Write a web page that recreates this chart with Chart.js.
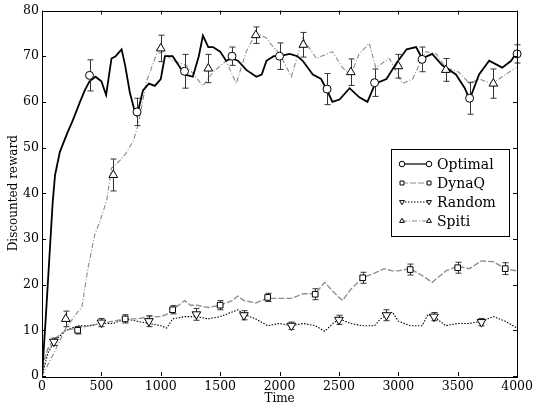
<!DOCTYPE html>
<html>
<head>
<meta charset="utf-8">
<script src="https://cdn.jsdelivr.net/npm/chart.js@4.4.0/dist/chart.umd.min.js"></script>
<style>
  html, body { margin: 0; padding: 0; background: #fff; }
  #wrap { width: 536px; height: 406px; }
</style>
</head>
<body>
<div id="wrap"><canvas id="rewardPlot" width="536" height="406"></canvas></div>
<script>
'use strict';

// curves (time, discounted reward)
const optimalTime = [0, 30, 60, 90, 110, 150, 210, 260, 320, 360, 400, 450, 500, 540, 585, 620, 670, 700, 740, 780, 800, 850, 900, 950, 1000, 1035, 1100, 1150, 1200, 1270, 1320, 1355, 1400, 1440, 1500, 1550, 1600, 1650, 1720, 1805, 1850, 1890, 1950, 2000, 2085, 2150, 2195, 2280, 2350, 2400, 2445, 2505, 2590, 2672, 2740, 2805, 2900, 2985, 3070, 3150, 3200, 3285, 3370, 3485, 3560, 3600, 3680, 3765, 3875, 3950, 4000];
const optimalReward = [0, 12, 25, 38, 44, 49, 53, 56, 60, 62.5, 64.5, 65.5, 64.5, 61.5, 69.5, 70, 71.5, 68, 62, 58, 57, 62.5, 64, 63.5, 65, 70, 70, 68, 66, 65.5, 70, 74.5, 72, 72, 71, 69, 69.5, 69, 67, 65.5, 66, 69, 70, 70, 70.5, 70, 69, 66, 65, 62.5, 60, 60.5, 63, 61, 60, 64, 65, 68.5, 71.5, 72, 69.5, 70.5, 68, 66, 63, 60.5, 66, 69, 67.5, 69, 71];

const dynaqTime = [0, 25, 50, 100, 150, 200, 300, 400, 500, 600, 700, 800, 900, 1000, 1050, 1100, 1150, 1200, 1250, 1300, 1400, 1500, 1600, 1650, 1700, 1800, 1900, 2000, 2100, 2200, 2300, 2380, 2450, 2530, 2600, 2700, 2800, 2880, 2950, 3000, 3100, 3200, 3285, 3400, 3500, 3600, 3700, 3800, 3900, 4000];
const dynaqReward = [0, 4, 6, 8, 9, 10, 10.5, 11, 11.5, 12, 12.5, 12.5, 13, 13, 13.5, 14.5, 15.5, 16.5, 15.5, 15.5, 15, 15.5, 16.5, 17.5, 16.5, 16, 17, 17, 17, 18, 18, 20.5, 18.5, 16.5, 19, 21.5, 22.5, 23.5, 23, 23, 23.5, 22, 20.5, 23, 24, 23.5, 25.2, 25, 23.5, 23];

const randomTime = [0, 50, 100, 200, 300, 400, 500, 600, 700, 800, 900, 1000, 1050, 1100, 1200, 1300, 1400, 1500, 1600, 1650, 1700, 1800, 1900, 2000, 2100, 2200, 2300, 2380, 2450, 2500, 2600, 2700, 2800, 2850, 2950, 3000, 3100, 3200, 3250, 3300, 3400, 3500, 3600, 3700, 3800, 3900, 4000];
const randomReward = [0, 5, 7.5, 10, 11, 11, 11.5, 11.5, 12.5, 12, 11.5, 11, 10.5, 12.5, 13, 13, 12.5, 13, 14, 14.5, 13.5, 12.5, 11, 11.5, 11, 11.5, 11, 9.8, 11.5, 12.5, 11.5, 11, 11, 12.5, 14, 12, 11, 11, 13.5, 13, 11, 11.5, 11.5, 12, 13, 12, 10.5];

const spitiTime = [0, 100, 200, 300, 335, 390, 445, 490, 545, 585, 650, 700, 770, 810, 880, 965, 1020, 1100, 1215, 1355, 1440, 1550, 1635, 1720, 1800, 1890, 1916, 2000, 2100, 2195, 2310, 2445, 2530, 2600, 2670, 2755, 2810, 2925, 3035, 3120, 3230, 3320, 3400, 3510, 3600, 3680, 3790, 3875, 3990];
const spitiReward = [0, 5, 10.5, 14, 15, 24, 31, 34, 38.5, 45.5, 47, 48.5, 51.5, 55, 64.5, 70.5, 71, 69, 68, 63.5, 66.5, 69, 64, 71, 75, 74, 73, 70.5, 65.5, 74, 69.5, 71, 67.5, 66, 70.5, 72.8, 67.5, 69.5, 64, 65, 71, 70.5, 67.5, 66.5, 64, 65, 64, 65.5, 67.5];

// markers with error bars
const optimalMarkT = [400, 800, 1200, 1600, 2000, 2400, 2800, 3200, 3600, 4000];
const optimalMarkV = [65.8, 57.8, 66.7, 70, 70, 62.8, 64.2, 69.3, 60.8, 70.5];
const optimalErr = [3.4, 3, 3.7, 2, 2.9, 3.4, 3, 2.7, 3.5, 2];

const dynaqMarkT = [300, 700, 1100, 1500, 1900, 2300, 2700, 3100, 3500, 3900];
const dynaqMarkV = [10, 12.5, 14.5, 15.5, 17.2, 17.9, 21.5, 23.3, 23.7, 23.5];
const dynaqErr = [0.8, 0.9, 0.9, 1, 0.9, 1.2, 1.2, 1.2, 1.2, 1.3];

const randomMarkT = [100, 500, 900, 1300, 1700, 2100, 2500, 2900, 3300, 3700];
const randomMarkV = [7.5, 11.7, 12, 13.5, 13.3, 11, 12.3, 13.3, 13, 11.8];
const randomErr = [0.8, 0.9, 1.2, 1.3, 1, 0.8, 1, 1.2, 0.9, 0.8];

const spitiMarkT = [200, 600, 1000, 1400, 1800, 2200, 2600, 3000, 3400, 3800];
const spitiMarkV = [12.5, 44, 71.7, 67.3, 74.6, 72.5, 66.5, 67.8, 67, 64];
const spitiErr = [1.7, 3.5, 2.9, 3.1, 1.8, 2.7, 2.9, 2.6, 2.5, 3.2];

const xTicks = [0, 500, 1000, 1500, 2000, 2500, 3000, 3500, 4000];
const yTicks = [0, 10, 20, 30, 40, 50, 60, 70, 80];

const serif = '"DejaVu Serif", "Liberation Serif", serif';

const pts = (t, v) => t.map((x, i) => ({x: x, y: v[i]}));

const series = [
    {label: 'Optimal', t: optimalTime, v: optimalReward, mt: optimalMarkT, mv: optimalMarkV, err: optimalErr,
     color: '#000', width: 1.8, dash: [], style: 'circle', rot: 0, r: 4},
    {label: 'DynaQ', t: dynaqTime, v: dynaqReward, mt: dynaqMarkT, mv: dynaqMarkV, err: dynaqErr,
     color: '#8f8f8f', width: 1.4, dash: [6, 2], style: 'rect', rot: 0, r: 4},
    {label: 'Random', t: randomTime, v: randomReward, mt: randomMarkT, mv: randomMarkV, err: randomErr,
     color: '#000', width: 1.1, dash: [1.5, 1.5], style: 'triangle', rot: 180, r: 5},
    {label: 'Spiti', t: spitiTime, v: spitiReward, mt: spitiMarkT, mv: spitiMarkV, err: spitiErr,
     color: '#8a8a8a', width: 1.1, dash: [5, 2, 1, 2], style: 'triangle', rot: 0, r: 5},
];

// marker datasets first (drawn last, on top), then the lines
const markerSets = series.map(s => ({
    label: s.label + ' markers',
    data: pts(s.mt, s.mv),
    showLine: false,
    pointStyle: s.style,
    pointRotation: s.rot,
    pointRadius: s.r,
    pointBackgroundColor: '#fff',
    pointBorderColor: '#000',
    pointBorderWidth: 1,
    clip: false,
}));
const lineSets = series.map(s => ({
    label: s.label,
    data: pts(s.t, s.v),
    borderColor: s.color,
    borderWidth: s.width,
    borderDash: s.dash,
    pointRadius: 0,
    tension: 0,
}));

function legendMarker(ctx, s, px, py) {
    ctx.save();
    ctx.fillStyle = '#fff';
    ctx.strokeStyle = '#000';
    ctx.lineWidth = 1;
    Chart.helpers.drawPoint(ctx, {pointStyle: s.style, rotation: s.rot, radius: 2.8, borderWidth: 1}, px, py);
    ctx.restore();
}

const framePlugin = {
    id: 'frame',
    afterDatasetDraw(chart, args) {
        // error bars: after the last line, before the markers
        if (args.index !== series.length) return;
        const {ctx, scales: {x, y}} = chart;
        ctx.save();
        ctx.strokeStyle = '#333';
        ctx.lineWidth = 1;
        series.forEach(s => {
            s.mt.forEach((t, i) => {
                const px = Math.round(x.getPixelForValue(t)) + 0.5;
                const y1 = y.getPixelForValue(s.mv[i] + s.err[i]);
                const y2 = y.getPixelForValue(s.mv[i] - s.err[i]);
                ctx.beginPath();
                ctx.moveTo(px, y1); ctx.lineTo(px, y2);
                ctx.moveTo(px - 3, y1); ctx.lineTo(px + 3, y1);
                ctx.moveTo(px - 3, y2); ctx.lineTo(px + 3, y2);
                ctx.stroke();
            });
        });
        ctx.restore();
    },
    afterDraw(chart) {
        const {ctx, chartArea: a, scales: {x, y}} = chart;
        ctx.save();
        ctx.strokeStyle = '#000';
        ctx.lineWidth = 1;
        ctx.strokeRect(Math.round(a.left) + 0.5, Math.round(a.top) + 0.5,
            Math.round(a.right - a.left), Math.round(a.bottom - a.top));
        // inward ticks on all sides
        ctx.beginPath();
        xTicks.forEach(t => {
            const px = Math.round(x.getPixelForValue(t)) + 0.5;
            ctx.moveTo(px, a.bottom); ctx.lineTo(px, a.bottom - 4);
            ctx.moveTo(px, a.top); ctx.lineTo(px, a.top + 4);
        });
        yTicks.forEach(v => {
            const py = Math.round(y.getPixelForValue(v)) + 0.5;
            ctx.moveTo(a.left, py); ctx.lineTo(a.left + 4, py);
            ctx.moveTo(a.right, py); ctx.lineTo(a.right - 4, py);
        });
        ctx.stroke();

        // legend box
        const bx = 391.5, by = 149.5, bw = 118, bh = 87;
        ctx.fillStyle = '#fff';
        ctx.fillRect(bx, by, bw, bh);
        ctx.strokeRect(bx, by, bw, bh);
        ctx.font = '14px ' + serif;
        ctx.textBaseline = 'middle';
        series.forEach((s, i) => {
            const ry = 164 + i * 19;
            const x1 = 402, x2 = 429;
            ctx.strokeStyle = s.color;
            ctx.lineWidth = 1.2;
            ctx.setLineDash(s.dash);
            ctx.beginPath();
            ctx.moveTo(x1, ry); ctx.lineTo(x2, ry);
            ctx.stroke();
            ctx.setLineDash([]);
            legendMarker(ctx, s, x1, ry);
            legendMarker(ctx, s, x2, ry);
            ctx.fillStyle = '#000';
            ctx.fillText(s.label, 437, ry + 1);
        });
        ctx.restore();
    }
};

const ctx = document.getElementById('rewardPlot').getContext('2d');

new Chart(ctx, {
    type: 'line',
    data: {datasets: markerSets.concat(lineSets)},
    options: {
        responsive: false,
        animation: false,
        events: [],
        layout: {padding: {top: 9, right: 18, bottom: 0, left: 0}},
        scales: {
            x: {
                type: 'linear',
                min: 0,
                max: 4000,
                afterBuildTicks: s => { s.ticks = xTicks.map(v => ({value: v})); },
                afterFit: s => { s.height = 30; },
                grid: {display: false, drawTicks: false},
                border: {display: false},
                ticks: {color: '#000', font: {family: serif, size: 12.5}, padding: 3, maxRotation: 0,
                        callback: v => String(v)},
                title: {display: true, text: 'Time', color: '#000',
                        font: {family: serif, size: 12}, padding: {top: 0, bottom: 0}},
            },
            y: {
                type: 'linear',
                min: 0,
                max: 80,
                afterBuildTicks: s => { s.ticks = yTicks.map(v => ({value: v})); },
                afterFit: s => { s.width = 42; },
                grid: {display: false, drawTicks: false},
                border: {display: false},
                ticks: {color: '#000', font: {family: serif, size: 12.5}, padding: 3,
                        callback: v => String(v)},
                title: {display: true, text: 'Discounted reward', color: '#000',
                        font: {family: serif, size: 12}, padding: {top: 7, bottom: 0}},
            },
        },
        plugins: {
            legend: {display: false},
            tooltip: {enabled: false},
        },
    },
    plugins: [framePlugin],
});
</script>
</body>
</html>
